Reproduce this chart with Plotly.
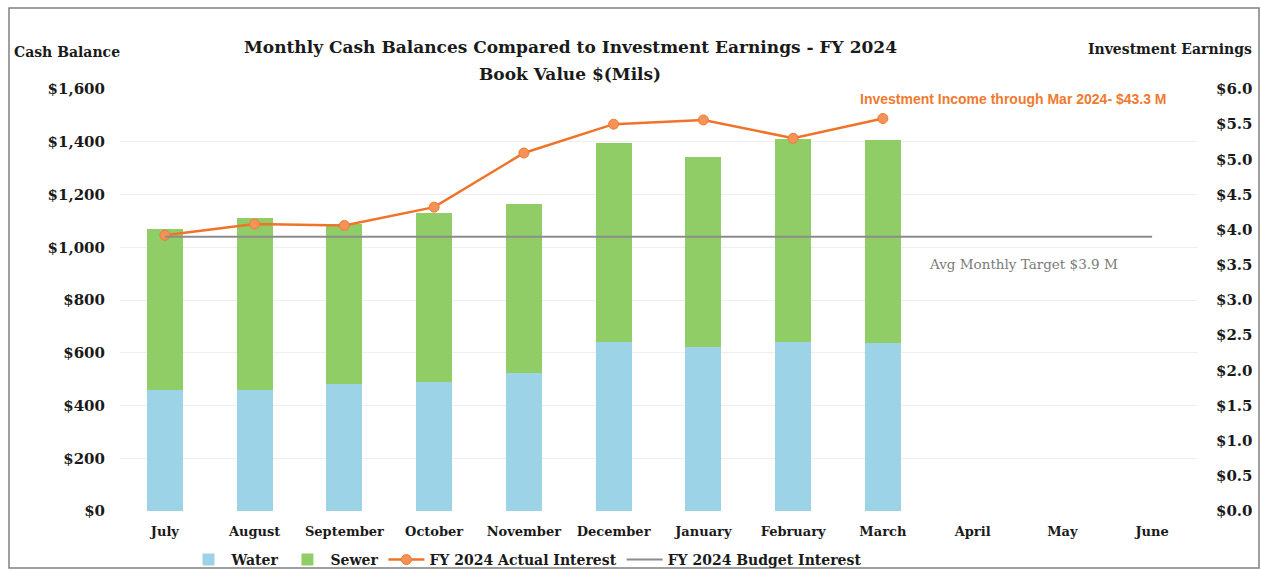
import plotly.graph_objects as go

months = ["July", "August", "September", "October", "November", "December",
          "January", "February", "March", "April", "May", "June"]
water = [459, 459, 481, 489, 523, 642, 620, 640, 637, None, None, None]
total = [1068, 1110, 1088, 1129, 1164, 1394, 1343, 1409, 1407, None, None, None]
sewer = [t - w if t is not None else None for t, w in zip(total, water)]
actual_interest = [3.92, 4.08, 4.06, 4.32, 5.09, 5.50, 5.56, 5.30, 5.58, None, None, None]
budget_interest = [3.9] * 12

left_ticks = list(range(0, 1601, 200))
right_ticks = [i * 0.5 for i in range(13)]

SERIF = "DejaVu Serif"
SANS = "Liberation Sans"
INK = "#1a1a1a"

fig = go.Figure()
fig.add_trace(go.Bar(x=months, y=water, name="Water", marker_color="#9dd3e6",
                     marker_line_width=0))
fig.add_trace(go.Bar(x=months, y=sewer, name="Sewer", marker_color="#91cd66",
                     marker_line_width=0))
fig.add_trace(go.Scatter(x=months, y=actual_interest, name="FY 2024 Actual Interest",
                         yaxis="y2", mode="lines+markers",
                         line=dict(color="#f0732a", width=2.5),
                         marker=dict(size=10, color="#f5925a",
                                     line=dict(color="#ef7a30", width=1))))
fig.add_trace(go.Scatter(x=months, y=budget_interest, name="FY 2024 Budget Interest",
                         yaxis="y2", mode="lines",
                         line=dict(color="#8c8c8c", width=2)))

FW, FH = 1262, 571
W0, W1, H0, H1 = 120, 1197, 89, 511
pw, ph = W1 - W0, H1 - H0


def px(x):
    return (x - W0) / pw


def py(y):
    return (H1 - y) / ph


fig.update_layout(
    width=FW, height=FH,
    margin=dict(l=W0, r=FW - W1, t=H0, b=FH - H1, autoexpand=False),
    paper_bgcolor="white", plot_bgcolor="white",
    barmode="stack", bargap=0.6,
    font=dict(family=SERIF, color=INK),
    xaxis=dict(type="category", categoryorder="array", categoryarray=months,
               range=[-0.5, 11.5], autorange=False,
               showgrid=False, showline=False, ticks="", ticklabelstandoff=11,
               tickfont=dict(family=SERIF, size=13, weight="bold", color=INK)),
    yaxis=dict(range=[0, 1600], tickvals=left_ticks,
               ticktext=["${:,}".format(v) for v in left_ticks],
               showgrid=True, gridcolor="#eeeeee", gridwidth=1,
               zeroline=False, showline=False, ticks="", ticklabelstandoff=14,
               tickfont=dict(family=SERIF, size=15, weight="bold", color=INK)),
    yaxis2=dict(range=[0, 6], overlaying="y", side="right", tickvals=right_ticks,
                ticktext=["${:.1f}".format(v) for v in right_ticks],
                showgrid=False, zeroline=False, showline=False, ticks="",
                ticklabelstandoff=18,
                tickfont=dict(family=SERIF, size=15, weight="bold", color=INK)),
    legend=dict(orientation="h", x=px(526), xanchor="center", y=py(560), yanchor="middle",
                font=dict(family=SERIF, size=14, weight="bold", color=INK),
                itemwidth=36, tracegroupgap=0, traceorder="normal",
                bgcolor="rgba(0,0,0,0)"),
    showlegend=True,
)

title_font = dict(family=SERIF, size=17, weight="bold", color=INK)
fig.add_annotation(text="Monthly Cash Balances Compared to Investment Earnings - FY 2024",
                   xref="paper", yref="paper", x=px(570), y=py(47),
                   xanchor="center", yanchor="middle", showarrow=False, font=title_font)
fig.add_annotation(text="Book Value $(Mils)",
                   xref="paper", yref="paper", x=px(570), y=py(74),
                   xanchor="center", yanchor="middle", showarrow=False, font=title_font)
fig.add_annotation(text="Cash Balance", xref="paper", yref="paper", x=px(12), y=py(52),
                   xanchor="left", yanchor="middle", showarrow=False,
                   font=dict(family=SERIF, size=14, weight="bold", color=INK))
fig.add_annotation(text="Investment Earnings", xref="paper", yref="paper", x=px(1254), y=py(49),
                   xanchor="right", yanchor="middle", showarrow=False,
                   font=dict(family=SERIF, size=14, weight="bold", color=INK))
fig.add_annotation(text="Investment Income through Mar 2024- $43.3 M", xref="paper", yref="paper",
                   x=px(1013), y=py(99), xanchor="center", yanchor="middle", showarrow=False,
                   font=dict(family=SANS, size=14, weight="bold", color="#f07a2e"))
fig.add_annotation(text="Avg Monthly Target $3.9 M", xref="paper", yref="paper",
                   x=px(1023), y=py(264), xanchor="center", yanchor="middle", showarrow=False,
                   font=dict(family=SERIF, size=13.5, color="#7a7a7a"))

fig.add_shape(type="rect", xref="paper", yref="paper", x0=px(9), x1=px(1259),
              y0=py(568), y1=py(8), line=dict(color="#808080", width=1.5),
              fillcolor="rgba(0,0,0,0)", layer="above")

fig.write_html("out.html", config={"displayModeBar": False},
               post_script="document.body.style.margin='0';")
